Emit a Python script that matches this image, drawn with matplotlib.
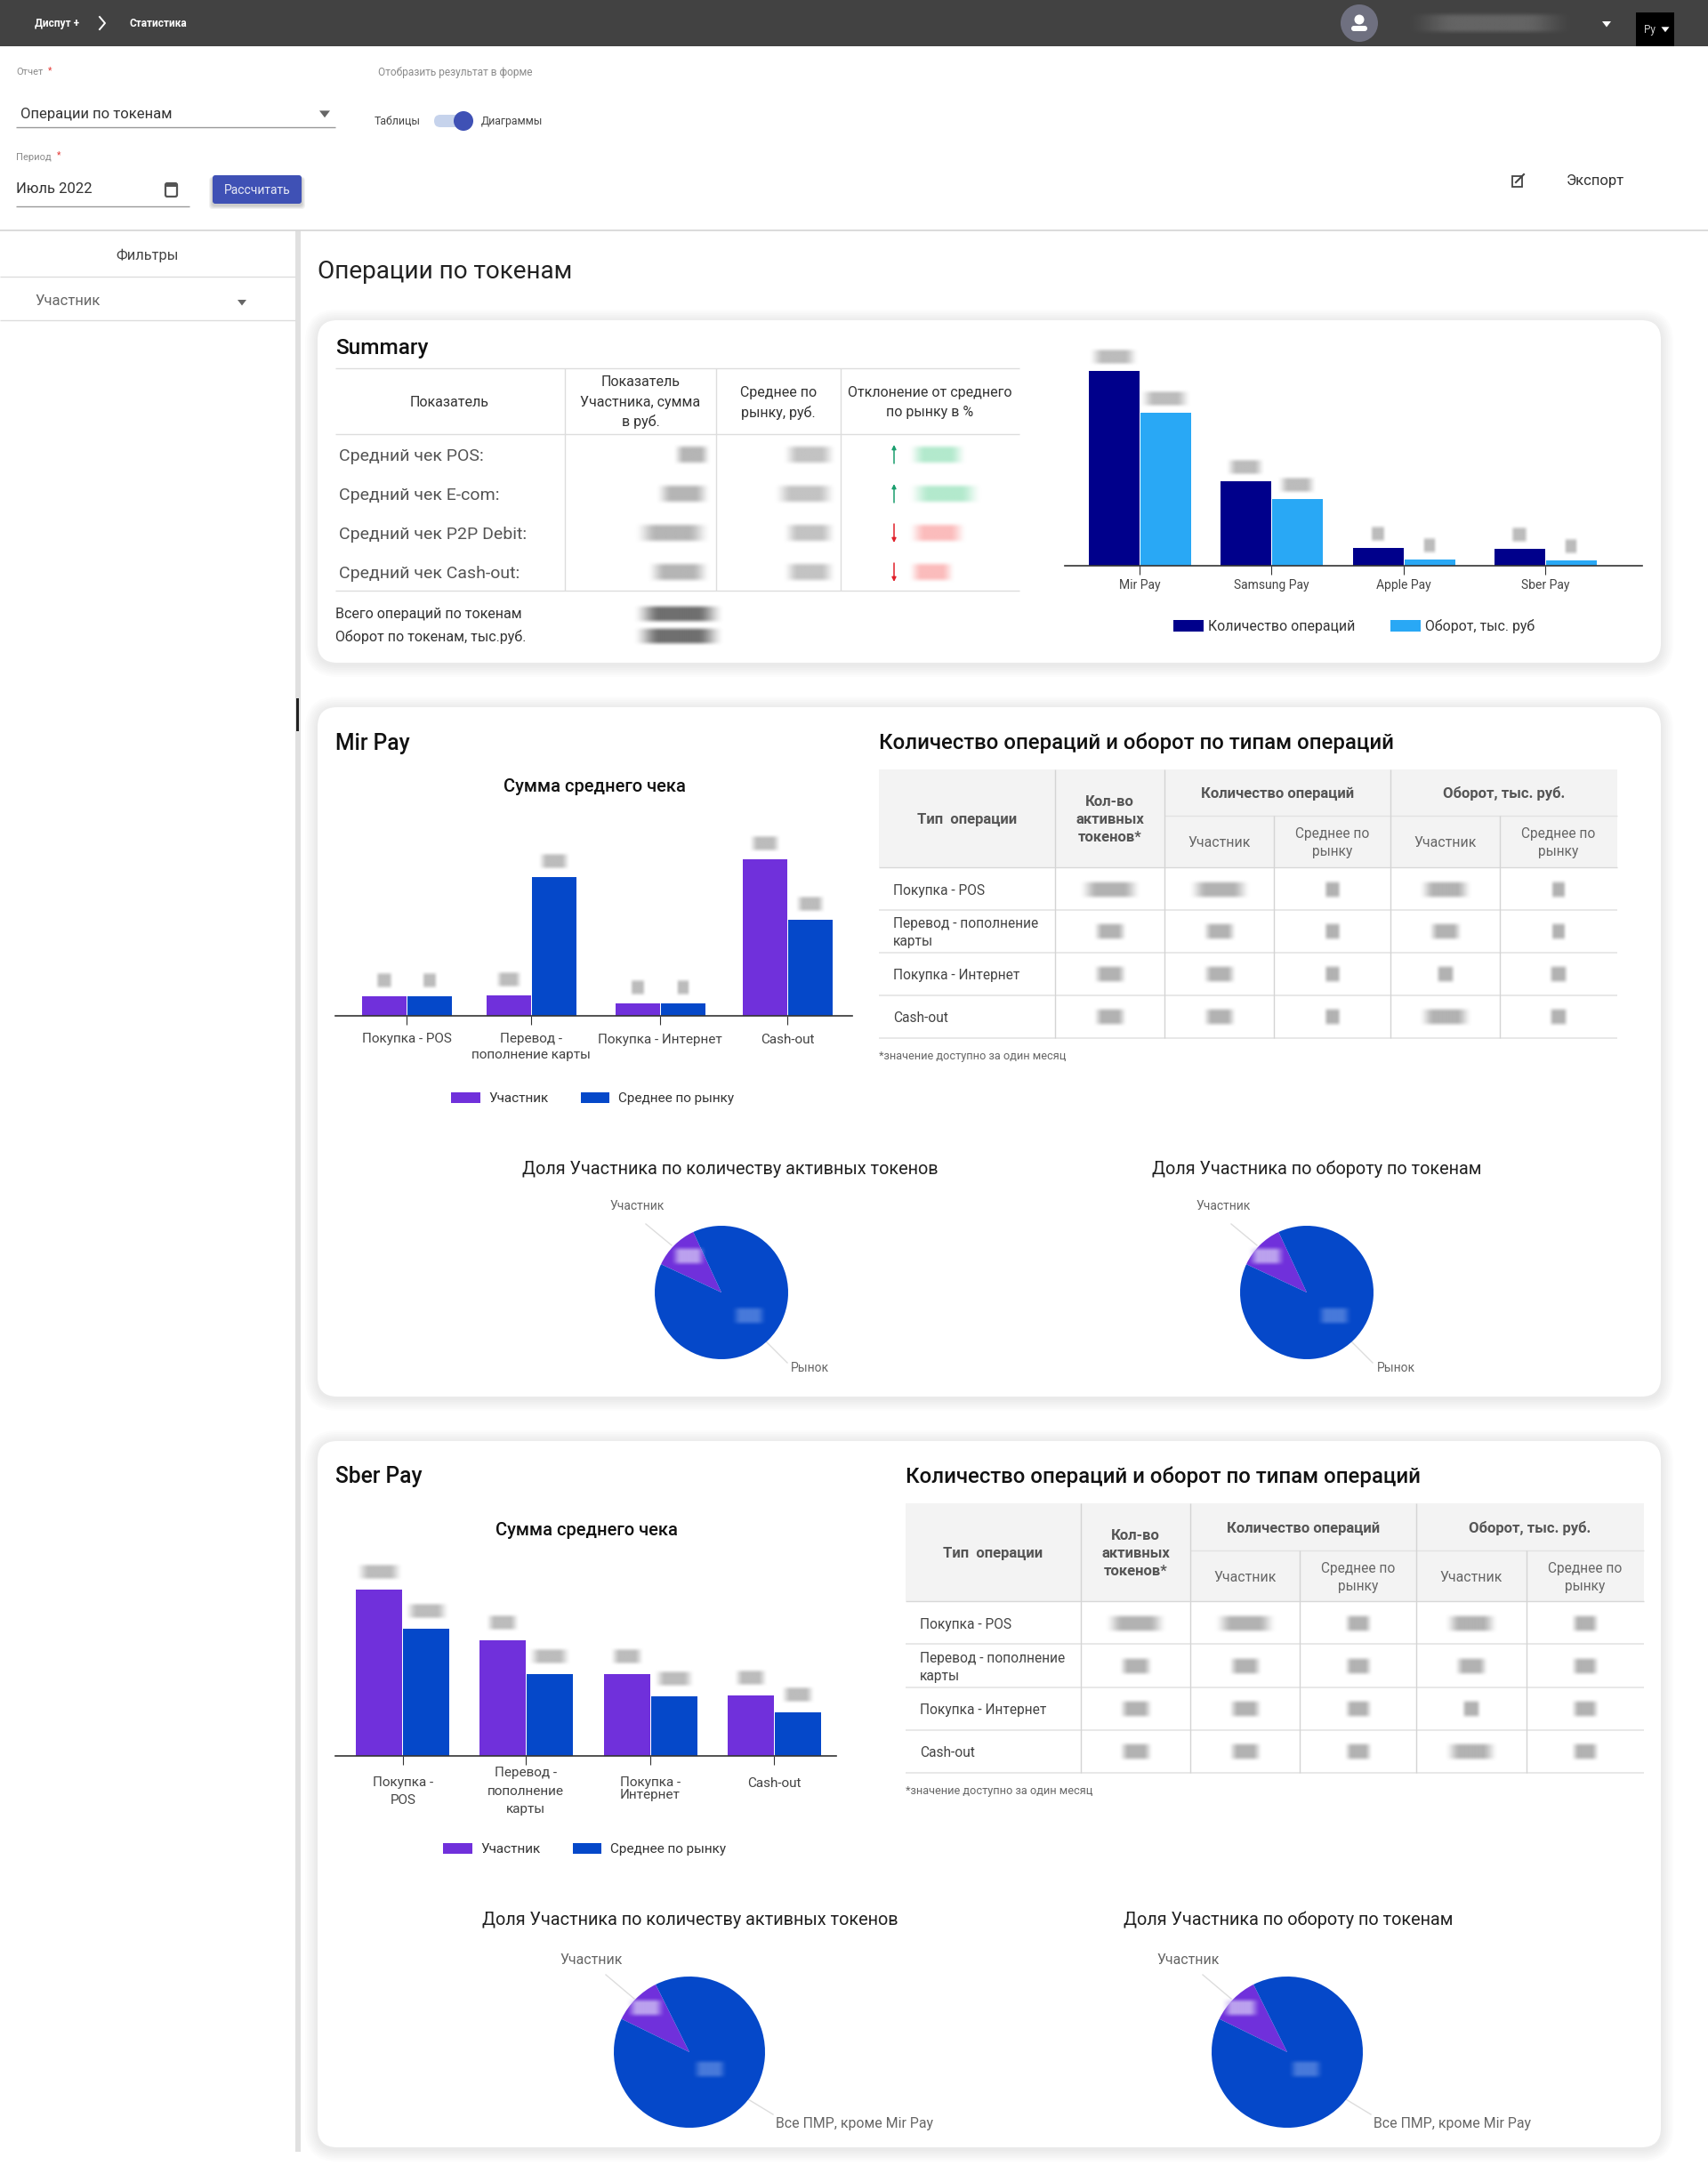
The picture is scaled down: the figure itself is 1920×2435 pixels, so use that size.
# -*- coding: utf-8 -*-
import numpy as np
import matplotlib
matplotlib.use('Agg')
import matplotlib.pyplot as plt
from matplotlib.patches import FancyBboxPatch, Rectangle, Circle, Polygon

plt.rcParams['font.family'] = ['Roboto', 'DejaVu Sans']

W, H = 1920, 2435
PURPLE = '#7030DB'
BLUE = '#0548C9'
NAVY = '#00008B'
SKY = '#29A8F5'

# Summary
summary_cats = ['Mir Pay', 'Samsung Pay', 'Apple Pay', 'Sber Pay']
summary_count = [219, 95, 20, 19]
summary_turnover = [172, 75, 7, 6]
summary_rows = ['Средний чек POS:', 'Средний чек E-com:', 'Средний чек P2P Debit:', 'Средний чек Cash-out:']

# Сумма среднего чека
mir_cats = ['Покупка - POS', 'Перевод -\nпополнение карты', 'Покупка - Интернет', 'Cash-out']
mir_member = [22, 23, 14, 176]
mir_market = [22, 156, 14, 108]
sber_cats = ['Покупка -\nPOS', 'Перевод -\nпополнение\nкарты', 'Покупка -\nИнтернет', 'Cash-out']
sber_member = [187, 130, 92, 68]
sber_market = [143, 92, 67, 49]

# Доли на круговых диаграммах, %
mir_share_tokens = [11.1, 88.9]
mir_share_turnover = [11.1, 88.9]
sber_share_tokens = [10.4, 89.6]
sber_share_turnover = [10.4, 89.6]

op_rows = ['Покупка - POS', 'Перевод - пополнение\nкарты', 'Покупка - Интернет', 'Cash-out']

fig = plt.figure(figsize=(W / 100, H / 100), dpi=100, facecolor='white')


def pixel_axes(x0, y0, x1, y1, z):
	return fig.add_axes([x0 / W, 1 - y1 / H, (x1 - x0) / W, (y1 - y0) / H], zorder=z)


bg = pixel_axes(0, 0, W, H, 0)
fg = pixel_axes(0, 0, W, H, 5)
for a in (bg, fg):
	a.set_xlim(0, W)
	a.set_ylim(H, 0)
	a.axis('off')
	a.set_autoscale_on(False)
fg.patch.set_alpha(0)


def txt(x, y, s, size=10, color='#333333', ha='left', weight='normal', **kw):
	return fg.text(x, y + 1.5, s, fontsize=size, color=color, ha=ha, va='center', weight=weight, **kw)


def blur(xc, yc, w, h=18, color='#8a8a8a', alpha=0.85):
	# размытый текст
	t = np.linspace(0, 1, 48)
	edge = 0.3
	sx = np.clip(np.minimum(t, 1 - t) / edge, 0, 1)
	sy = np.clip(np.minimum(t, 1 - t) / edge, 0, 1)
	mask = np.outer(sy * sy * (3 - 2 * sy), sx * sx * (3 - 2 * sx)) * alpha
	img = np.zeros((48, 48, 4))
	img[..., :3] = matplotlib.colors.to_rgb(color)
	img[..., 3] = mask
	fg.imshow(img, extent=(xc - w / 2 - 5, xc + w / 2 + 5, yc + h / 2 + 3, yc - h / 2 - 3),
		aspect='auto', interpolation='bilinear', zorder=3)


def card(x0, y0, x1, y1):
	for i in range(7, 0, -1):
		bg.add_patch(FancyBboxPatch((x0 - i * 2, y0 - i * 2 + 2), x1 - x0 + i * 4, y1 - y0 + i * 4,
			boxstyle='round,pad=0,rounding_size=%d' % (22 + i * 2), fc='black', ec='none', alpha=0.012))
	bg.add_patch(FancyBboxPatch((x0, y0), x1 - x0, y1 - y0, boxstyle='round,pad=0,rounding_size=22',
		fc='white', ec='none'))


def hline(y, x0, x1, color='#dddddd', lw=1.0, a=None):
	(a or bg).plot([x0, x1], [y, y], color=color, lw=lw, solid_capstyle='butt')


def vline(x, y0, y1, color='#dddddd', lw=1.0, a=None):
	(a or bg).plot([x, x], [y0, y1], color=color, lw=lw, solid_capstyle='butt')


def triangle(x, y, s=5, color='#555555', a=None):
	(a or fg).add_patch(Polygon([[x - s, y - s * 0.6], [x + s, y - s * 0.6], [x, y + s * 0.7]], fc=color, ec='none'))


# Верхняя панель
bg.add_patch(Rectangle((0, 0), W, 52, fc='#424242', ec='none'))
txt(39, 25, 'Диспут +', 8.6, 'white', weight='bold')
fg.plot([112, 118, 112], [19, 26, 33], color='white', lw=1.4)
txt(145, 25, 'Статистика', 8.6, 'white', weight='bold')
bg.add_patch(Circle((1528, 26), 21, fc='#6f7080', ec='none'))
bg.add_patch(Circle((1528, 22), 5.5, fc='white', ec='none'))
bg.add_patch(FancyBboxPatch((1519, 29), 18, 6, boxstyle='round,pad=0,rounding_size=3', fc='white', ec='none'))
blur(1675, 26, 186, 22, '#666666', 0.95)
triangle(1806, 27, 5, 'white')
bg.add_patch(Rectangle((1839, 14), 43, 38, fc='black', ec='none'))
txt(1848, 32, 'Ру', 8.5, '#cccccc')
triangle(1872, 33, 4.5, 'white')

# Форма
txt(18, 80, 'Отчет', 8, '#8a8a8a')
txt(54, 78, '*', 7.5, '#e53935')
txt(425, 80, 'Отобразить результат в форме', 8.6, '#8a8a8a')
txt(23, 127, 'Операции по токенам', 12, '#333333')
hline(143, 18, 377, '#999999')
triangle(365, 128, 6, '#666666')
txt(421, 135, 'Таблицы', 8.8, '#444444')
bg.add_patch(FancyBboxPatch((488, 129), 40, 14, boxstyle='round,pad=0,rounding_size=7', fc='#c6d3ec', ec='none'))
bg.add_patch(Circle((521, 136), 11, fc='#3F51B5', ec='none'))
txt(541, 135, 'Диаграммы', 8.8, '#444444')
txt(18, 175, 'Период', 8, '#8a8a8a')
txt(64, 173, '*', 7.5, '#e53935')
txt(18, 211, 'Июль 2022', 12, '#333333')
hline(232, 18, 213, '#999999')
bg.add_patch(FancyBboxPatch((186, 206), 13, 15, boxstyle='round,pad=0,rounding_size=2', fc='white', ec='#555555', lw=1.6))
bg.add_patch(Rectangle((186, 206), 13, 4, fc='#555555', ec='none'))
for i in range(4, 0, -1):
	bg.add_patch(FancyBboxPatch((239 - i, 197 + 2), 100 + i * 2, 32 + i, boxstyle='round,pad=0,rounding_size=4',
		fc='black', ec='none', alpha=0.05))
bg.add_patch(FancyBboxPatch((239, 197), 100, 32, boxstyle='round,pad=0,rounding_size=3', fc='#3F51B5', ec='none'))
txt(289, 212, 'Рассчитать', 10, '#e8eaf6', ha='center')
bg.add_patch(Rectangle((1700, 198), 11, 12, fc='none', ec='#444444', lw=1.3))
fg.plot([1704, 1713], [205, 196], color='#444444', lw=1.5)
txt(1761, 202, 'Экспорт', 12, '#333333')
hline(259, 0, W, '#d8d8d8', 1.3)

# Боковая панель
bg.add_patch(Rectangle((332, 259), 6, 2160, fc='#e0e0e0', ec='none'))
bg.add_patch(Rectangle((333, 785), 2.5, 37, fc='#222222', ec='none'))
txt(166, 286, 'Фильтры', 11.8, '#444444', ha='center')
hline(311, 0, 332)
txt(39, 337, 'Участник', 12, '#666666')
triangle(272, 340, 5, '#666666')
hline(360, 0, 332)

txt(357, 304, 'Операции по токенам', 20.1, '#222222')

# Карточки
card(357, 360, 1867, 745)
card(357, 795, 1867, 1570)
card(357, 1620, 1867, 2414)

# Summary: таблица
txt(377, 390, 'Summary', 17.6, '#111111', weight='medium')
hline(414, 377, 1146)
hline(488, 377, 1146)
hline(664, 377, 1146)
for x in (635, 805, 945):
	vline(x, 414, 664)
txt(505, 451, 'Показатель', 11.5, ha='center')
for y, s in zip((428, 451, 473), ('Показатель', 'Участника, сумма', 'в руб.')):
	txt(720, y, s, 11.5, ha='center')
for y, s in zip((440, 462), ('Среднее по', 'рынку, руб.')):
	txt(875, y, s, 11.5, ha='center')
for y, s in zip((440, 462), ('Отклонение от среднего', 'по рынку в %')):
	txt(1045, y, s, 11.5, ha='center')
row_y = [511, 555, 599, 643]
w_member = [34, 54, 78, 64]
w_market = [52, 62, 52, 52]
w_diff = [58, 75, 58, 45]
c_diff = ['#a5e6c4', '#a5e6c4', '#fbb0b0', '#fbb0b0']
for i, (y, s) in enumerate(zip(row_y, summary_rows)):
	txt(381, y, s, 14, '#555555')
	blur(795 - w_member[i] / 2, y, w_member[i], 20, '#a8a8a8')
	blur(936 - w_market[i] / 2, y, w_market[i], 20, '#b8b8b8')
	blur(1025 + w_diff[i] / 2, y, w_diff[i], 20, c_diff[i])
	up = i < 2
	col = '#1a9e6e' if up else '#e0202a'
	fg.annotate('', xy=(1005, y - 11 if up else y + 11), xytext=(1005, y + 10 if up else y - 10),
		arrowprops=dict(arrowstyle='-|>', color=col, lw=1.1, mutation_scale=7, shrinkA=0, shrinkB=0))
txt(377, 689, 'Всего операций по токенам', 11.5, '#333333')
txt(377, 714, 'Оборот по токенам, тыс.руб.', 11.5, '#333333')
blur(763, 690, 96, 18, '#555555')
blur(763, 715, 96, 18, '#555555')


def legend(a, handles, labels, xc, yc, hl, tp, cs, size):
	a.legend(handles, labels, ncols=2, loc='center', bbox_to_anchor=(xc, yc), bbox_transform=fg.transData,
		frameon=False, fontsize=size, handlelength=hl, handleheight=0.8, handletextpad=tp,
		columnspacing=cs, borderpad=0, labelcolor='#333333')


def bars(box, centers, v1, v2, labels, c1, c2, bw, names, leg, widths, pads, spacings, gap, size=11):
	x0, x1, base, top = box
	a = pixel_axes(x0, top, x1, base, 3)
	a.patch.set_alpha(0)
	a.set_xlim(x0, x1)
	a.set_ylim(0, base - top)
	p1 = a.bar([c - bw / 2 for c in centers], v1, bw - 1, color=c1)
	p2 = a.bar([c + bw / 2 for c in centers], v2, bw - 1, color=c2)
	for s in ('top', 'left', 'right'):
		a.spines[s].set_visible(False)
	a.spines['bottom'].set_color('#333333')
	a.spines['bottom'].set_linewidth(1.2)
	a.set_yticks([])
	a.set_xticks(centers, labels)
	a.tick_params(axis='x', length=7, width=0.8, color='#333333', labelsize=size, labelcolor='#444444')
	for t, lab, pad, sp in zip(a.xaxis.get_major_ticks(), a.get_xticklabels(), pads, spacings):
		t.set_pad(pad)
		lab.set_linespacing(sp)
	legend(a, [p1, p2], names, *leg)
	for c, va, vb, (wa, wb) in zip(centers, v1, v2, widths):
		blur(c - bw / 2, base - va - gap, wa, 16, '#b0b0b0')
		blur(c + bw / 2, base - vb - gap, wb, 16, '#b0b0b0')


# Summary: диаграмма
bars((1197, 1846, 636, 395), [1281, 1429, 1578, 1737], summary_count, summary_turnover, summary_cats, NAVY, SKY, 58,
	['Количество операций', 'Оборот, тыс. руб'], (1522, 704, 2.15, 0.3, 2.55, 11.4),
	[(48, 50), (36, 36), (10, 8), (12, 8)], [4, 4, 4, 4], [1.2] * 4, 16, size=10)


def pie(cx, cy, r, share, lab1, lab1_xy, l1, lab2, lab2_xy, l2, s1, s2, size=10, start=115):
	a = pixel_axes(cx - r - 2, cy - r - 2, cx + r + 2, cy + r + 2, 3)
	a.pie(share, colors=[PURPLE, BLUE], startangle=start, counterclock=True, radius=1,
		wedgeprops=dict(linewidth=0))
	a.set_xlim(-(r + 2) / r, (r + 2) / r)
	a.set_ylim(-(r + 2) / r, (r + 2) / r)
	txt(lab1_xy[0], lab1_xy[1], lab1, size, '#666666', ha='center')
	txt(lab2_xy[0], lab2_xy[1], lab2, size, '#666666', ha='left')
	bg.plot(l1[0], l1[1], color='#dddddd', lw=1)
	bg.plot(l2[0], l2[1], color='#dddddd', lw=1)
	blur(s1[0], s1[1], s1[2], 18, '#c9b6f2', 0.85)
	blur(s2[0], s2[1], s2[2], 18, '#4f7fdc', 0.9)


def op_table(left, vx, top, sub, bottom, rows_line, rows_y, sub_y, note_y, smudges, right):
	bg.add_patch(Rectangle((left, top), right - left, bottom - top, fc='#f3f3f3', ec='none'))
	hline(sub, vx[1], right, '#e2e2e2')
	hline(bottom, left, right, '#d8d8d8')
	for y in rows_line:
		hline(y, left, right, '#e4e4e4', 1.2)
	for i, x in enumerate(vx):
		vline(x, sub if i in (2, 4) else top, rows_line[-1], '#d4d4d4')
	bold = '#555555'
	colc = [(vx[0] + vx[1]) / 2, (vx[1] + vx[2]) / 2, (vx[2] + vx[3]) / 2, (vx[3] + vx[4]) / 2, (vx[4] + right) / 2]
	txt((left + vx[0]) / 2, (top + bottom) / 2, 'Тип  операции', 12, bold, ha='center', weight='bold')
	for k, s in enumerate(('Кол-во', 'активных', 'токенов*')):
		txt(colc[0], (top + bottom) / 2 + (k - 1) * 20, s, 12, bold, ha='center', weight='bold')
	txt((vx[1] + vx[3]) / 2, (top + sub) / 2, 'Количество операций', 12, bold, ha='center', weight='bold')
	txt((vx[3] + right) / 2, (top + sub) / 2, 'Оборот, тыс. руб.', 12, bold, ha='center', weight='bold')
	for c in (colc[1], colc[3]):
		txt(c, sub_y, 'Участник', 11.4, '#666666', ha='center')
	for c in (colc[2], colc[4]):
		txt(c, sub_y - 10, 'Среднее по', 11.2, '#666666', ha='center')
		txt(c, sub_y + 10, 'рынку', 11.2, '#666666', ha='center')
	for y, s, row in zip(rows_y, op_rows, smudges):
		if '\n' in s:
			a, b = s.split('\n')
			txt(left + 16, y - 10, a, 11.2, '#444444')
			txt(left + 16, y + 10, b, 11.2, '#444444')
		else:
			txt(left + 16, y, s, 11.2, '#444444')
		for c, w in zip(colc, row):
			blur(c, y, w, 18, '#a4a4a4')
	txt(left, note_y, '*значение доступно за один месяц', 9.2, '#666666')


# Mir Pay
txt(377, 834, 'Mir Pay', 17.7, '#111111', weight='medium')
txt(988, 834, 'Количество операций и оборот по типам операций', 17.25, '#111111', weight='medium')
txt(668, 883, 'Сумма среднего чека', 14.5, '#111111', ha='center', weight='medium')
bars((377, 958, 1141.5, 940), [457, 597, 742, 885], mir_member, mir_market, mir_cats, PURPLE, BLUE, 51,
	['Участник', 'Среднее по рынку'], (666, 1235, 2.15, 0.6, 2.35, 11),
	[(12, 10), (22, 28), (10, 8), (28, 26)], [7, 7, 8, 8], [1.4] * 4, 17)
mir_smudges = [(62, 62, 12, 52, 10), (30, 30, 12, 30, 10), (30, 30, 12, 14, 14), (30, 30, 12, 52, 14)]
op_table(988, [1186, 1309, 1432, 1563, 1686], 865, 917, 975, [1023, 1071, 1119, 1167], [1000, 1047, 1095, 1143],
	946, 1186, mir_smudges, 1818)
txt(821, 1313, 'Доля Участника по количеству активных токенов', 14.35, '#222222', ha='center')
txt(1480, 1313, 'Доля Участника по обороту по токенам', 14.35, '#222222', ha='center')
pie(811, 1453, 75, mir_share_tokens, 'Участник', (716, 1355), ([726, 755], [1376, 1400]), 'Рынок', (889, 1537),
	([861, 885], [1508, 1532]), (774, 1412, 32), (842, 1479, 32))
pie(1469, 1453, 75, mir_share_turnover, 'Участник', (1375, 1355), ([1384, 1413], [1376, 1400]), 'Рынок', (1548, 1537),
	([1519, 1543], [1508, 1532]), (1424, 1412, 34), (1500, 1479, 32))

# Sber Pay
txt(377, 1659, 'Sber Pay', 17.7, '#111111', weight='medium')
txt(1018, 1659, 'Количество операций и оборот по типам операций', 17.25, '#111111', weight='medium')
txt(659, 1719, 'Сумма среднего чека', 14.5, '#111111', ha='center', weight='medium')
bars((377, 940, 1974, 1760), [453, 591, 731, 870], sber_member, sber_market, sber_cats, PURPLE, BLUE, 53,
	['Участник', 'Среднее по рынку'], (657, 2079, 2.15, 0.6, 2.35, 11),
	[(45, 42), (30, 40), (30, 38), (30, 30)], [9.5, 2, 9.5, 10.5], [1.55, 1.55, 1.0, 1.2], 20)
sber_smudges = [(62, 62, 24, 52, 24), (30, 30, 24, 30, 24), (30, 30, 24, 14, 24), (30, 30, 24, 52, 24)]
op_table(1018, [1215, 1338, 1461, 1592, 1716], 1690, 1743, 1800, [1848, 1897, 1945, 1993], [1825, 1873, 1921, 1969],
	1772, 2012, sber_smudges, 1848)
txt(776, 2157, 'Доля Участника по количеству активных токенов', 14.35, '#222222', ha='center')
txt(1448, 2157, 'Доля Участника по обороту по токенам', 14.35, '#222222', ha='center')
pie(775, 2307, 85, sber_share_tokens, 'Участник', (665, 2202), ([681, 713], [2220, 2247]), 'Все ПМР, кроме Mir Pay', (872, 2386),
	([841, 869], [2360, 2377]), (726, 2257, 36), (798, 2326, 32), size=11.4, start=116.5)
pie(1447, 2307, 85, sber_share_turnover, 'Участник', (1336, 2202), ([1352, 1384], [2220, 2247]), 'Все ПМР, кроме Mir Pay', (1544, 2386),
	([1513, 1541], [2360, 2377]), (1395, 2257, 36), (1468, 2326, 32), size=11.4, start=116.5)

fig.savefig('out.png', dpi=100, facecolor='white')
